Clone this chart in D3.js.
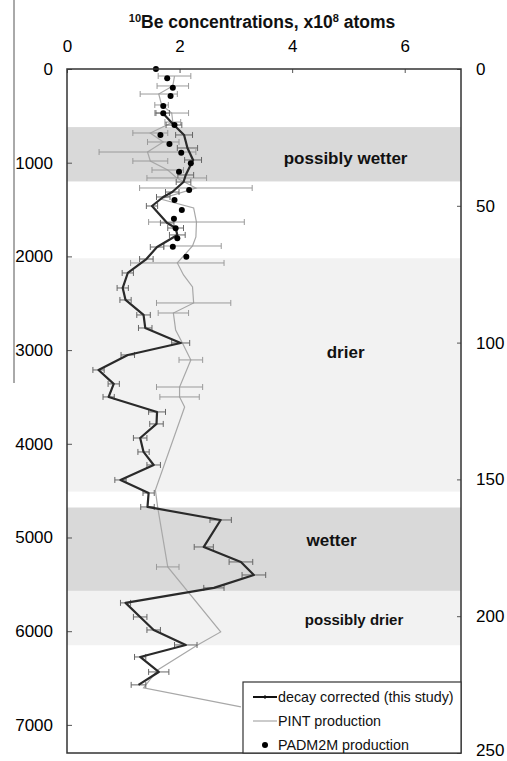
<!DOCTYPE html>
<html>
<head>
<meta charset="utf-8">
<script src="https://cdn.jsdelivr.net/npm/d3@7"></script>
<style>
body { margin: 0; background: #fff; }
text { font-family: "Liberation Sans", Arial, sans-serif; }
</style>
</head>
<body>
<script>
// axis ticks
var ageTicks = [0, 1000, 2000, 3000, 4000, 5000, 6000, 7000];
var depthTicks = [0, 50, 100, 150, 200, 250];
var concTicks = [0, 2, 4, 6];

// climate bands (age, years)
var bandFrom = [620, 2020, 4680, 5570];
var bandTo = [1200, 4510, 5570, 6150];
var bandKind = ["wet", "dry", "wet", "dry"];
var bandLabel = ["possibly wetter", "drier", "wetter", "possibly drier"];
var labelAge = [950, 3020, 5026, 5880];
var labelConc = [4.95, 4.95, 4.7, 5.1];

// decay corrected (this study)
var decayAge = [470, 598, 704, 843, 971, 1131, 1206, 1313, 1366, 1462, 1643, 1697, 1771, 1900,
  2028, 2177, 2337, 2465, 2625, 2764, 2924, 3052, 3212, 3361, 3500, 3660, 3788, 3938, 4087,
  4226, 4386, 4525, 4674, 4813, 5101, 5261, 5400, 5538, 5698, 5848, 5987, 6147, 6275, 6435, 6573];
var decayConc = [1.70, 1.90, 2.08, 2.14, 2.24, 2.11, 2.07, 1.87, 1.71, 1.51, 1.78, 1.93, 1.96, 1.60,
  1.41, 1.08, 0.99, 1.04, 1.36, 1.39, 2.02, 1.08, 0.56, 0.83, 0.74, 1.60, 1.59, 1.30, 1.36,
  1.54, 0.95, 1.45, 1.43, 2.73, 2.43, 3.09, 3.32, 2.61, 1.04, 1.30, 1.54, 2.11, 1.30, 1.63, 1.27];
var decayErr = [0.12, 0.14, 0.15, 0.18, 0.15, 0.14, 0.13, 0.12, 0.12, 0.1, 0.12, 0.14, 0.14, 0.12,
  0.12, 0.1, 0.1, 0.1, 0.12, 0.12, 0.16, 0.12, 0.1, 0.1, 0.1, 0.15, 0.12, 0.12, 0.1,
  0.12, 0.1, 0.1, 0.12, 0.19, 0.17, 0.21, 0.21, 0.18, 0.09, 0.12, 0.12, 0.2, 0.1, 0.18, 0.13];

// PINT production
var pintAge = [75, 181, 267, 384, 470, 566, 683, 779, 886, 982, 1078, 1163, 1270, 1387, 1483,
  1633, 1793, 1889, 2070, 2198, 2326, 2497, 2604, 2785, 2924, 3105, 3394, 3500, 3607, 4493,
  4674, 5314, 6008, 6147, 6413, 6605, 6808];
var pintConc = [1.91, 1.88, 1.63, 1.68, 1.86, 1.88, 1.48, 1.71, 1.43, 1.48, 1.79, 1.95, 2.29, 1.66, 2.25,
  2.30, 2.29, 2.23, 1.96, 2.07, 2.23, 2.25, 1.89, 1.93, 2.05, 2.20, 2.00, 2.00, 2.09, 1.57,
  1.61, 1.79, 2.73, 2.32, 1.61, 1.36, 3.09];
var pintErr = [0.29, 0.28, 0.33, 0.12, 0.30, 0.14, 0.31, 0.28, 0.86, 0.31, 0.28, 0.53, 1.0, 0, 0,
  0.85, 0, 0.51, 0.83, 0, 0, 0.66, 0.27, 0, 0, 0.21, 0.41, 0.35, 0, 0,
  0, 0.20, 0, 0, 0, 0, 0];

// PADM2M production
var padmAge = [0, 99, 200, 288, 395, 473, 598, 704, 800, 893, 1006, 1096, 1291, 1398, 1505,
  1597, 1700, 1807, 1896, 2003];
var padmConc = [1.58, 1.78, 1.88, 1.84, 1.71, 1.71, 1.91, 1.66, 1.82, 2.03, 2.20, 1.99, 2.17, 1.91, 2.04,
  1.90, 1.93, 1.96, 1.88, 2.12];

var legendNames = ["decay corrected (this study)", "PINT production", "PADM2M production"];

var W = 507, H = 761;
var svg = d3.select("body").append("svg").attr("width", W).attr("height", H);

var x = d3.scaleLinear().domain([0, 7]).range([67, 461]);
var y = d3.scaleLinear().domain([0, 7300]).range([69, 753]);
var yR = d3.scaleLinear().domain([0, 250]).range([69, 753]);

var bandColor = { wet: "#d9d9d9", dry: "#f2f2f2" };

// stray vertical rule on the far left
svg.append("line")
  .attr("x1", 14).attr("x2", 14).attr("y1", 0).attr("y2", 383)
  .attr("stroke", "#555").attr("stroke-width", 1);

// bands
svg.selectAll("rect.band")
  .data(bandFrom)
  .enter()
  .append("rect")
  .attr("class", "band")
  .attr("x", x(0))
  .attr("width", x(7) - x(0))
  .attr("y", function(d) { return y(d); })
  .attr("height", function(d, i) { return y(bandTo[i]) - y(d); })
  .attr("fill", function(d, i) { return bandColor[bandKind[i]]; });

svg.selectAll("text.bandlab")
  .data(bandLabel)
  .enter()
  .append("text")
  .attr("class", "bandlab")
  .attr("x", function(d, i) { return x(labelConc[i]); })
  .attr("y", function(d, i) { return y(labelAge[i]); })
  .attr("dy", "0.35em")
  .attr("text-anchor", "middle")
  .attr("font-weight", "bold")
  .attr("font-size", function(d, i) { return i === 3 ? "15px" : "17px"; })
  .attr("fill", "#111")
  .text(function(d) { return d; });

// error bar helper
function errBars(ages, concs, errs, color, cap) {
  var g = svg.append("g").attr("stroke", color).attr("stroke-width", 1).attr("fill", "none");
  ages.forEach(function(a, i) {
    var e = errs[i];
    if (!e) return;
    var yy = y(a), x0 = x(concs[i] - e), x1 = x(concs[i] + e);
    g.append("line").attr("x1", x0).attr("x2", x1).attr("y1", yy).attr("y2", yy);
    g.append("line").attr("x1", x0).attr("x2", x0).attr("y1", yy - cap).attr("y2", yy + cap);
    g.append("line").attr("x1", x1).attr("x2", x1).attr("y1", yy - cap).attr("y2", yy + cap);
  });
}

var line = d3.line()
  .x(function(d) { return x(d[1]); })
  .y(function(d) { return y(d[0]); });

// PINT
svg.append("path")
  .datum(d3.zip(pintAge, pintConc))
  .attr("d", line)
  .attr("fill", "none")
  .attr("stroke", "#a8a8a8")
  .attr("stroke-width", 1.2);
errBars(pintAge, pintConc, pintErr, "#9a9a9a", 3);

// decay corrected
errBars(decayAge, decayConc, decayErr, "#666", 3);
svg.append("path")
  .datum(d3.zip(decayAge, decayConc))
  .attr("d", line)
  .attr("fill", "none")
  .attr("stroke", "#2a2a2a")
  .attr("stroke-width", 2.2)
  .attr("stroke-linejoin", "round");

// PADM2M
svg.selectAll("circle.padm")
  .data(padmAge)
  .enter()
  .append("circle")
  .attr("class", "padm")
  .attr("cx", function(d, i) { return x(padmConc[i]); })
  .attr("cy", function(d) { return y(d); })
  .attr("r", 3)
  .attr("fill", "#000");

// axes
var axTop = svg.append("g").attr("transform", "translate(0," + y(0) + ")")
  .call(d3.axisTop(x).tickValues(concTicks).tickSize(-4).tickPadding(17).tickFormat(d3.format("d")));
var axLeft = svg.append("g").attr("transform", "translate(" + x(0) + ",0)")
  .call(d3.axisLeft(y).tickValues(ageTicks).tickSize(-5).tickPadding(14).tickFormat(d3.format("d")));
var axRight = svg.append("g").attr("transform", "translate(" + x(7) + ",0)")
  .call(d3.axisRight(yR).tickValues(depthTicks).tickSize(-4).tickPadding(15).tickFormat(d3.format("d")));

[axTop, axLeft, axRight].forEach(function(a) {
  a.select(".domain").remove();
  a.selectAll(".tick line").attr("stroke", "#555");
  a.selectAll(".tick text")
    .attr("font-size", "17px")
    .attr("fill", "#000")
    .style("font-family", "'Liberation Sans', Arial, sans-serif");
});
// bottom right label sits on the page edge; lift it a little so it stays whole
axRight.selectAll(".tick text")
  .filter(function(d) { return d === 250; })
  .attr("dy", "0.15em");

// frame
svg.append("rect")
  .attr("x", x(0)).attr("y", y(0))
  .attr("width", x(7) - x(0)).attr("height", y(7300) - y(0))
  .attr("fill", "none").attr("stroke", "#333").attr("stroke-width", 1.5);

// title
var title = svg.append("text")
  .attr("x", 262).attr("y", 28)
  .attr("text-anchor", "middle")
  .attr("font-weight", "bold")
  .attr("font-size", "17.5px")
  .attr("fill", "#111");
title.append("tspan").attr("font-size", "11px").attr("dy", "-6").text("10");
title.append("tspan").attr("dy", "6").text("Be concentrations, x10");
title.append("tspan").attr("font-size", "11px").attr("dy", "-6").text("8");
title.append("tspan").attr("dy", "6").text(" atoms");

// legend
var lg = svg.append("g");
lg.append("rect")
  .attr("x", 243).attr("y", 682).attr("width", 218).attr("height", 71)
  .attr("fill", "#fff").attr("stroke", "#333").attr("stroke-width", 1.2);
var ly = [697, 721, 745];
lg.append("line").attr("x1", 253).attr("x2", 277).attr("y1", ly[0]).attr("y2", ly[0])
  .attr("stroke", "#111").attr("stroke-width", 2);
lg.append("line").attr("x1", 265).attr("x2", 265).attr("y1", ly[0] - 2).attr("y2", ly[0] + 2)
  .attr("stroke", "#111").attr("stroke-width", 1);
lg.append("line").attr("x1", 253).attr("x2", 277).attr("y1", ly[1]).attr("y2", ly[1])
  .attr("stroke", "#a8a8a8").attr("stroke-width", 1.2);
lg.append("circle").attr("cx", 265).attr("cy", ly[2]).attr("r", 3).attr("fill", "#000");
lg.selectAll("text")
  .data(legendNames)
  .enter()
  .append("text")
  .attr("x", 278)
  .attr("y", function(d, i) { return ly[i]; })
  .attr("dy", "0.35em")
  .attr("font-size", "14.3px")
  .attr("fill", "#111")
  .text(function(d) { return d; });
</script>
</body>
</html>
